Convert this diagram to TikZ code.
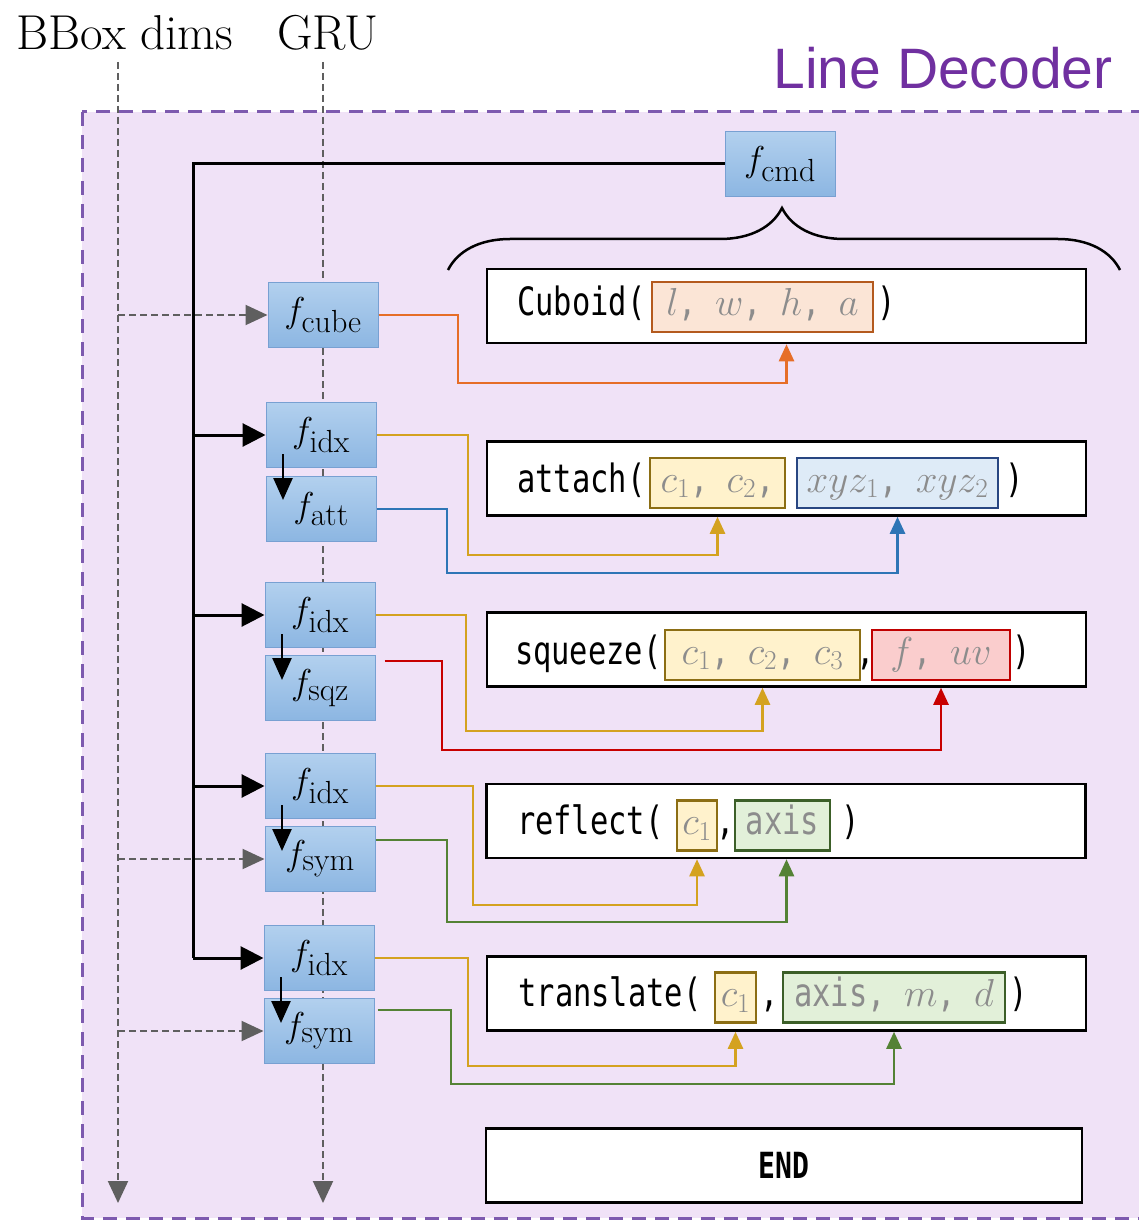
\RequirePackage{fix-cm}
\documentclass[tikz,border=0pt]{standalone}
\usepackage{fontspec}
\setsansfont{Liberation Sans}
\newfontfamily\codefont[FakeStretch=0.78]{DejaVu Sans Mono}
\usetikzlibrary{arrows.meta, positioning, calc, decorations.pathreplacing}

\definecolor{framefill}{RGB}{240,226,247}
\definecolor{framedash}{RGB}{125,90,175}
\definecolor{titlepurple}{RGB}{112,48,160}
\definecolor{dimgray}{RGB}{95,95,95}
\definecolor{fntop}{RGB}{178,208,238}
\definecolor{fnbot}{RGB}{140,182,226}
\definecolor{fnedge}{RGB}{120,160,210}
\definecolor{argtext}{RGB}{140,140,140}
\definecolor{cubfill}{RGB}{251,229,214}
\definecolor{cubedge}{RGB}{180,90,30}
\definecolor{cubline}{RGB}{230,110,40}
\definecolor{idxfill}{RGB}{255,242,204}
\definecolor{idxedge}{RGB}{140,110,20}
\definecolor{idxline}{RGB}{212,162,32}
\definecolor{attfill}{RGB}{222,235,247}
\definecolor{attedge}{RGB}{40,70,130}
\definecolor{attline}{RGB}{46,117,182}
\definecolor{sqzfill}{RGB}{250,205,205}
\definecolor{sqzedge}{RGB}{192,0,0}
\definecolor{sqzline}{RGB}{200,0,0}
\definecolor{symfill}{RGB}{226,240,217}
\definecolor{symedge}{RGB}{60,95,40}
\definecolor{symline}{RGB}{84,130,53}

% f with a full-size roman subscript
\newcommand{\fsub}[1]{$f_{\hbox{\fontsize{32}{34}\selectfont #1}}$}

\tikzset{
    decoframe/.style={draw=framedash, fill=framefill, line width=3pt, dash pattern=on 14pt off 9pt},
    decotitle/.style={text=titlepurple, inner sep=0pt, font=\sffamily\fontsize{57}{60}\selectfont},
    toplabel/.style={inner sep=0pt, font=\fontsize{49}{54}\selectfont},
    dims/.style={draw=dimgray, line width=2pt, dash pattern=on 7pt off 4pt, -{Triangle[width=20pt,length=22pt]}},
    fblock/.style={draw=fnedge, line width=1pt, top color=fntop, bottom color=fnbot, minimum width=110pt, minimum height=65pt, inner sep=0pt, font=\fontsize{36}{40}\selectfont},
    trunk/.style={line width=3pt},
    hop/.style={line width=3pt, -{Triangle[width=23pt,length=23pt]}},
    drop/.style={line width=2.5pt, -{Triangle[width=19pt,length=22pt]}},
    callbox/.style={draw=black, line width=2.5pt, fill=white, minimum width=599pt, minimum height=74pt, inner sep=0pt},
    callname/.style={inner sep=0pt, text height=27pt, text depth=9pt, font=\codefont\fontsize{39}{44}\selectfont},
    argbox/.style={line width=2.5pt, minimum height=50pt, inner sep=0pt, text height=27pt, text depth=9pt, text=argtext, font=\codefont\fontsize{39}{44}\selectfont},
    feed/.style={line width=2.5pt, -{Triangle[width=15pt,length=17pt]}},
    cmdbrace/.style={line width=2.5pt, decorate, decoration={brace, amplitude=62pt, aspect=0.497}},
}

\begin{document}
\begin{tikzpicture}[x=1pt, y=-1pt]
    \useasboundingbox (0,0) rectangle (1138,1222);
    \draw[decoframe] (82,112) rectangle (1175,1218);

    % inputs
    \node[decotitle] (decoder) at (943,68) {Line Decoder};
    \node[toplabel] (bbox) at (125,33) {BBox dims};
    \node[toplabel] (gru) at (328,33) {GRU};
    \coordinate (bboxTop) at (118,62);
    \coordinate (bboxEnd) at (118,1203);
    \coordinate (gruTop) at (323,62);
    \coordinate (gruEnd) at (323,1203);
    \draw[dims] (bboxTop) -- (bboxEnd);
    \draw[dims] (gruTop) -- (gruEnd);

    % decoder blocks
    \node[fblock] (fcmd) at (780,164) {\fsub{cmd}};
    \node[fblock] (fcube) at (323,315) {\fsub{cube}};
    \node[fblock] (fidxA) at (321,435) {\fsub{idx}};
    \node[fblock] (fatt) at (321,509) {\fsub{att}};
    \node[fblock] (fidxB) at (320,615) {\fsub{idx}};
    \node[fblock] (fsqz) at (320,688) {\fsub{sqz}};
    \node[fblock] (fidxC) at (320,786) {\fsub{idx}};
    \node[fblock] (fsymA) at (320,859) {\fsub{sym}};
    \node[fblock] (fidxD) at (319,958) {\fsub{idx}};
    \node[fblock] (fsymB) at (319,1031) {\fsub{sym}};

    \draw[dims] (bboxTop |- fcube.west) -- (fcube.west);
    \draw[dims] (bboxTop |- fsymA.west) -- (fsymA.west);
    \draw[dims] (bboxTop |- fsymB.west) -- (fsymB.west);

    \coordinate (trunk) at (193,0);
    \draw[trunk] (fcmd.west) -| (trunk |- fidxD.west);
    \foreach \n in {fidxA, fidxB, fidxC, fidxD}
        \draw[hop] (trunk |- \n.west) -- (\n.west);
    \foreach \n in {fidxA, fidxB, fidxC, fidxD}
        \draw[drop] ($(\n)+(-38,19)$) -- ($(\n)+(-38,65)$);

    % calls
    \draw[cmdbrace] (448,270) -- (1120,270);
    \node[callbox] (cuboid) at (786.5,306) {};
    \node[callbox] (attach) at (786.5,478.5) {};
    \node[callbox] (squeeze) at (786.5,649.5) {};
    \node[callbox] (reflect) at (786,821) {};
    \node[callbox] (translate) at (786.5,993.5) {};
    \node[callbox, minimum width=596pt, font=\codefont\bfseries\fontsize{36}{40}\selectfont] (finish) at (784,1165.5) {END};

    \node[argbox, draw=cubedge, fill=cubfill, minimum width=221pt] (cubA) at (762.5,307) {$l$, $w$, $h$, $a$};
    \node[callname, left=5pt of cubA] {Cuboid(};
    \node[callname, right=3pt of cubA] {)};

    \node[argbox, draw=idxedge, fill=idxfill, minimum width=135pt] (attA) at (717.5,483) {$c_1$, $c_2$,};
    \node[argbox, draw=attedge, fill=attfill, minimum width=201pt] (attB) at (897.5,483) {$xyz_1$, $xyz_2$};
    \node[callname, left=3pt of attA] {attach(};
    \node[callname, right=6pt of attB] {)};

    \node[argbox, draw=idxedge, fill=idxfill, minimum width=195pt] (sqzA) at (762.5,655) {$c_1$, $c_2$, $c_3$};
    \node[argbox, draw=sqzedge, fill=sqzfill, minimum width=138pt] (sqzB) at (941,655) {$f$, $uv$};
    \node[callname, left=2pt of sqzA] {squeeze(};
    \node[callname, right=1pt of sqzB] {)};
    \node[callname] at ($(sqzA.east)!0.5!(sqzB.west)$) {,};

    \node[argbox, draw=idxedge, fill=idxfill, minimum width=40pt] (refA) at (697,825.5) {$c_1$};
    \node[argbox, draw=symedge, fill=symfill, minimum width=95pt] (refB) at (782.5,825.5) {axis};
    \node[callname, left=12pt of refA] {reflect(};
    \node[callname, right=10pt of refB] {)};
    \node[callname] at ($(refA.east)!0.5!(refB.west)$) {,};

    \node[argbox, draw=idxedge, fill=idxfill, minimum width=41pt] (trnA) at (735.5,997.5) {$c_1$};
    \node[argbox, draw=symedge, fill=symfill, minimum width=222pt] (trnB) at (894,997.5) {axis, $m$, $d$};
    \node[callname, left=12pt of trnA] {translate(};
    \node[callname, right=3pt of trnB] {)};
    \node[callname] at ($(trnA.east)!0.5!(trnB.west)$) {,};

    % outputs into arguments
    \draw[feed, cubline] (fcube.east) -| (458,383) -| ([xshift=24pt]cubA.south |- cuboid.south);
    \draw[feed, idxline] (fidxA.east) -| (468,555) -| (attA.south |- attach.south);
    \draw[feed, attline] (fatt.east) -| (447,573) -| (attB.south |- attach.south);
    \draw[feed, idxline] (fidxB.east) -| (466,731) -| (sqzA.south |- squeeze.south);
    \draw[feed, sqzline] ($(fsqz.east)+(9,-27)$) -| (442,750) -| (sqzB.south |- squeeze.south);
    \draw[feed, idxline] (fidxC.east) -| (473,905) -| (refA.south |- reflect.south);
    \draw[feed, symline] ($(fsymA.east)+(0,-19)$) -| (447,922) -| ([xshift=4pt]refB.south |- reflect.south);
    \draw[feed, idxline] (fidxD.east) -| (468,1066) -| (trnA.south |- translate.south);
    \draw[feed, symline] ($(fsymB.east)+(3,-21)$) -| (451,1084) -| (trnB.south |- translate.south);
\end{tikzpicture}
\end{document}
